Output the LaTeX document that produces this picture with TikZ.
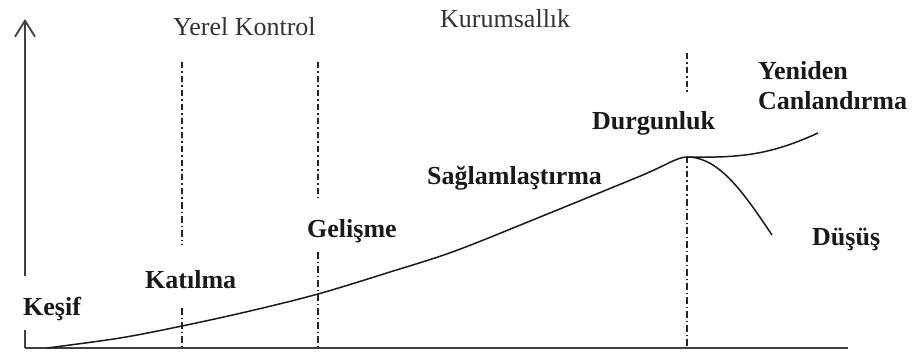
\documentclass[tikz,border=0pt]{standalone}
\usepackage{fontspec}
\setmainfont{Liberation Serif}
\usetikzlibrary{arrows.meta}
\tikzset{
  axisline/.style={draw=black!75, line width=1.8pt},
  phaseline/.style={draw=black!85, line width=1.4pt, dash pattern=on 6.5pt off 3pt on 1.5pt off 3pt},
  curveline/.style={draw=black!90, line width=1.5pt},
  stage/.style={inner sep=0pt, anchor=base west, font=\fontsize{26}{28}\selectfont\bfseries, text=black!90},
  period/.style={inner sep=0pt, anchor=base west, font=\fontsize{26}{28}\selectfont, text=black!80}
}
\begin{document}
\begin{tikzpicture}[x=1pt,y=-1pt]
\useasboundingbox (0,0) rectangle (915,358);
% coordinates
\coordinate (o) at (25,348);
\coordinate (ytickend) at (25,330);
\coordinate (yresume) at (25,276);
\coordinate (ytop) at (25,19);
\coordinate (xend) at (848,348);
\coordinate (a1) at (182,62);  \coordinate (a2) at (182,245);
\coordinate (a3) at (182,308); \coordinate (a4) at (182,348);
\coordinate (b1) at (318,62);  \coordinate (b2) at (318,198);
\coordinate (b3) at (318,252); \coordinate (b4) at (318,348);
\coordinate (c1) at (687,53);  \coordinate (c2) at (687,92);
\coordinate (c3) at (687,157); \coordinate (c4) at (687,348);
\coordinate (bend) at (638,177);
\coordinate (peak) at (687,157);
\coordinate (rev) at (818,133);
\coordinate (fall) at (772,235);
% axes
\draw[axisline] (o) -- (ytickend);
\draw[axisline, -{Straight Barb[length=16pt,width=20pt]}] (yresume) -- (ytop);
\draw[axisline] (o) -- (xend);
% phase lines
\draw[phaseline] (a1) -- (a2);
\draw[phaseline] (a3) -- (a4);
\draw[phaseline] (b1) -- (b2);
\draw[phaseline] (b3) -- (b4);
\draw[phaseline] (c1) -- (c2);
\draw[phaseline] (c3) -- (c4);
% life cycle curve
\draw[curveline] plot[smooth, tension=0.55] coordinates {(47,348) (120,338) (182,326) (250,311) (318,294) (390,272) (455,251) (545,215) (638,177)};
\draw[curveline] (bend) .. controls (665,166) and (677,157) .. (peak);
\draw[curveline] (peak) .. controls (740,158) and (770,155) .. (rev);
\draw[curveline] (peak) .. controls (720,157) and (745,195) .. (fall);
% labels
\node[period] (yk) at (173,36) {Yerel Kontrol};
\node[period] (ku) at (440,28) {Kurumsallık};
\node[stage] (kesif) at (23,315) {Keşif};
\node[stage] (kat) at (145,288) {Katılma};
\node[stage] (gel) at (307,237) {Gelişme};
\node[stage] (sag) at (427,185) {Sağlamlaştırma};
\node[stage] (dur) at (592,130) {Durgunluk};
\node[stage] (yen) at (758,80) {Yeniden};
\node[stage] (can) at (758,110) {Canlandırma};
\node[stage] (dus) at (812,245) {Düşüş};
\end{tikzpicture}
\end{document}
